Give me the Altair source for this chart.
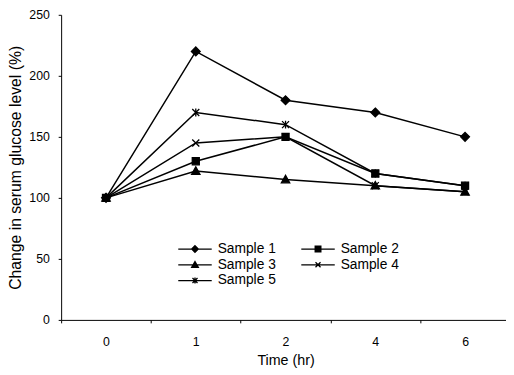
import altair as alt
import pandas as pd

times = ["0", "1", "2", "4", "6"]
samples = ["Sample 1", "Sample 2", "Sample 3", "Sample 4", "Sample 5"]
sample1 = [100, 220, 180, 170, 150]
sample2 = [100, 130, 150, 120, 110]
sample3 = [100, 122, 115, 110, 105]
sample4 = [100, 145, 150, 110, 105]
sample5 = [100, 170, 160, 120, 110]
y_ticks = [0, 50, 100, 150, 200, 250]

rows = []
for name, vals in zip(samples, [sample1, sample2, sample3, sample4, sample5]):
    for t, v in zip(times, vals):
        rows.append({"time": t, "sample": name, "value": v})
df = pd.DataFrame(rows)

# plot marker shapes (unit box -1..1)
marker_paths = [
    "M0,-1L1,0L0,1L-1,0Z",                       # diamond
    "M-0.8,-0.8H0.8V0.8H-0.8Z",                  # square
    "M0,-0.95L0.95,0.75H-0.95Z",                 # triangle
    "M-0.8,-0.8L0.8,0.8M-0.8,0.8L0.8,-0.8",      # x
    "M-0.8,-0.8L0.8,0.8M-0.8,0.8L0.8,-0.8M0,-0.9L0,0.9",  # asterisk
]
# legend symbols: line with a (stroke-filled) marker in the middle
legend_paths = [
    "M-1,0H1M0,-0.2L0.2,0L0,0.2L-0.2,0ZM0,-0.12L0.12,0L0,0.12L-0.12,0ZM0,-0.05L0.05,0L0,0.05L-0.05,0Z",
    "M-1,0H1M-0.17,-0.17H0.17V0.17H-0.17ZM-0.1,-0.1H0.1V0.1H-0.1ZM-0.03,-0.03H0.03V0.03H-0.03Z",
    "M-1,0H1M0,-0.2L0.2,0.15H-0.2ZM0,-0.09L0.1,0.08H-0.1Z",
    "M-1,0H1M-0.15,-0.15L0.15,0.15M-0.15,0.15L0.15,-0.15",
    "M-1,0H1M-0.15,-0.15L0.15,0.15M-0.15,0.15L0.15,-0.15M0,-0.18L0,0.18",
]

FONT = "Liberation Sans"

x = alt.X(
    "time:O",
    sort=times,
    scale=alt.Scale(type="band", range=[0, 456], paddingInner=0, paddingOuter=0),
    axis=alt.Axis(
        title="Time (hr)", labelAngle=0, tickBand="extent", tickSize=3,
        labelPadding=13, titlePadding=6,
    ),
)
y = alt.Y(
    "value:Q",
    scale=alt.Scale(domain=[0, 250], nice=False),
    axis=alt.Axis(
        title="Change in serum glucose level (%)", values=y_ticks,
        tickSize=3, labelPadding=9, titlePadding=5, titleFontSize=16,
    ),
)

base = alt.Chart(df)

lines = base.mark_line(color="black", strokeWidth=1.5).encode(
    x=x, y=y, detail="sample:N"
)

points = base.mark_point(
    filled=True, color="black", stroke="black", strokeWidth=1.3, size=80, opacity=1
).encode(
    x=x, y=y,
    shape=alt.Shape("sample:N", scale=alt.Scale(domain=samples, range=marker_paths), legend=None),
)

legend_layer = base.mark_point(
    filled=False, color="black", strokeWidth=1.3, opacity=0, size=1156
).encode(
    x=x, y=y,
    shape=alt.Shape(
        "sample:N",
        scale=alt.Scale(domain=samples, range=legend_paths),
        legend=alt.Legend(
            title=None, orient="none", legendX=118, legendY=230, columns=2,
            direction="horizontal",
            clipHeight=16, rowPadding=0, columnPadding=24, labelOffset=5,
            symbolOpacity=1, symbolStrokeColor="black",
            symbolStrokeWidth=1.3, symbolSize=1156, padding=0,
            labelFont=FONT, labelFontSize=14, labelColor="black",
        ),
    ),
)

chart = (
    alt.layer(lines, points, legend_layer)
    .resolve_scale(shape="independent")
    .properties(
        width=445, height=310,
        autosize=alt.AutoSizeParams(type="none"),
        padding={"left": 54, "top": 4, "right": 7, "bottom": 50},
        background="white",
    )
    .configure_view(stroke=None)
    .configure_axis(
        labelFont=FONT, titleFont=FONT, labelFontSize=12.5, titleFontSize=14.5,
        titleFontWeight="normal", labelColor="black", titleColor="black",
        domainColor="black", tickColor="black", grid=False,
    )
)

chart.save("out.html", embed_options={"renderer": "svg", "actions": False})
